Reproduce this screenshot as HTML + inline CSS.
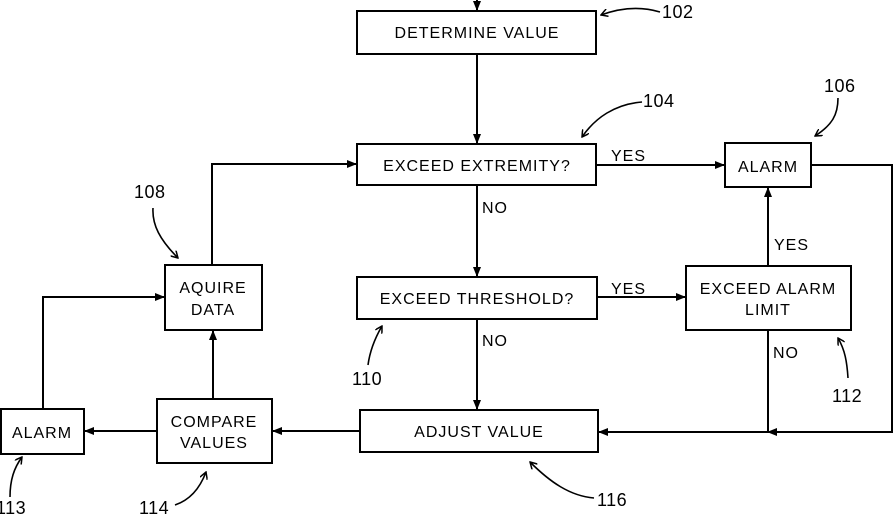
<!DOCTYPE html>
<html><head><meta charset="utf-8"><style>
html,body{margin:0;padding:0;background:#fff}
svg{display:block}
text{font-family:"Liberation Sans",sans-serif;font-size:16px;fill:#000;letter-spacing:1px}
.n{font-size:18px;letter-spacing:0.5px}
</style></head><body>
<svg width="894" height="515" viewBox="0 0 894 515" xmlns="http://www.w3.org/2000/svg">
<defs><marker id="a" markerWidth="10" markerHeight="8" refX="10" refY="4" orient="auto" markerUnits="userSpaceOnUse"><path d="M0,0 L10,4 L0,8 z" fill="#000"/></marker>
<marker id="s" markerWidth="8" markerHeight="8" refX="7" refY="4" orient="auto" markerUnits="userSpaceOnUse"><path d="M0,0 L7,4 L0,8" fill="none" stroke="#000" stroke-width="1.5"/></marker></defs>
<g fill="none" stroke="#000" stroke-width="2">
<rect x="357" y="11" width="239" height="43"/>
<rect x="357" y="144" width="239" height="41"/>
<rect x="725" y="143" width="86" height="44"/>
<rect x="165" y="265" width="97" height="65"/>
<rect x="357" y="277" width="240" height="42"/>
<rect x="686" y="266" width="165" height="64"/>
<rect x="1" y="409" width="83" height="45"/>
<rect x="157" y="399" width="115" height="64"/>
<rect x="360" y="410" width="238" height="42"/>
</g>
<g fill="none" stroke="#000" stroke-width="2">
<line x1="477" y1="0" x2="477" y2="11" marker-end="url(#a)"/>
<line x1="477" y1="54" x2="477" y2="144" marker-end="url(#a)"/>
<line x1="596" y1="165" x2="725" y2="165" marker-end="url(#a)"/>
<line x1="477" y1="185" x2="477" y2="277" marker-end="url(#a)"/>
<line x1="597" y1="297" x2="686" y2="297" marker-end="url(#a)"/>
<line x1="768" y1="266" x2="768" y2="187" marker-end="url(#a)"/>
<line x1="477" y1="319" x2="477" y2="410" marker-end="url(#a)"/>
<polyline points="811,165 892,165 892,432 778,432"/>
<line x1="778" y1="432" x2="767" y2="432" marker-end="url(#a)"/>
<polyline points="768,330 768,432 598,432"/>
<line x1="640" y1="432" x2="598" y2="432" marker-end="url(#a)"/>
<line x1="360" y1="431" x2="272" y2="431" marker-end="url(#a)"/>
<line x1="157" y1="431" x2="84" y2="431" marker-end="url(#a)"/>
<line x1="213" y1="399" x2="213" y2="330" marker-end="url(#a)"/>
<polyline points="43,409 43,297 165,297" />
<line x1="150" y1="297" x2="165" y2="297" marker-end="url(#a)"/>
<polyline points="212,265 212,164 357,164"/>
<line x1="340" y1="164" x2="357" y2="164" marker-end="url(#a)"/>
</g>
<g fill="none" stroke="#000" stroke-width="1.6">
<path d="M660,12 C640,6 620,8 601,15" marker-end="url(#s)"/>
<path d="M642,102 C615,104 595,118 582,137" marker-end="url(#s)"/>
<path d="M838,98 C838,115 832,125 815,136" marker-end="url(#s)"/>
<path d="M153,208 C152,225 160,240 178,258" marker-end="url(#s)"/>
<path d="M368,365 C370,350 375,338 382,326" marker-end="url(#s)"/>
<path d="M848,378 C847,362 845,350 838,338" marker-end="url(#s)"/>
<path d="M10,497 C10,480 14,468 22,457" marker-end="url(#s)"/>
<path d="M175,505 C190,500 200,488 206,472" marker-end="url(#s)"/>
<path d="M594,498 C570,496 550,482 530,462" marker-end="url(#s)"/>
</g>
<g text-anchor="middle">
<text x="477" y="38">DETERMINE VALUE</text>
<text x="477" y="171">EXCEED EXTREMITY?</text>
<text x="768" y="172">ALARM</text>
<text x="213" y="293">AQUIRE</text>
<text x="213" y="315">DATA</text>
<text x="477" y="304">EXCEED THRESHOLD?</text>
<text x="768" y="294">EXCEED ALARM</text>
<text x="768" y="315">LIMIT</text>
<text x="42" y="438">ALARM</text>
<text x="214" y="427">COMPARE</text>
<text x="214" y="448">VALUES</text>
<text x="479" y="437">ADJUST VALUE</text>
</g>
<text x="611" y="161">YES</text>
<text x="482" y="213">NO</text>
<text x="611" y="294">YES</text>
<text x="774" y="250">YES</text>
<text x="482" y="346">NO</text>
<text x="773" y="358">NO</text>
<text class="n" x="662" y="18">102</text>
<text class="n" x="643" y="107">104</text>
<text class="n" x="824" y="92">106</text>
<text class="n" x="134" y="198">108</text>
<text class="n" x="352" y="385">110</text>
<text class="n" x="832" y="402">112</text>
<text class="n" x="-4" y="514">113</text>
<text class="n" x="139" y="514">114</text>
<text class="n" x="597" y="506">116</text>
</svg>
</body></html>
